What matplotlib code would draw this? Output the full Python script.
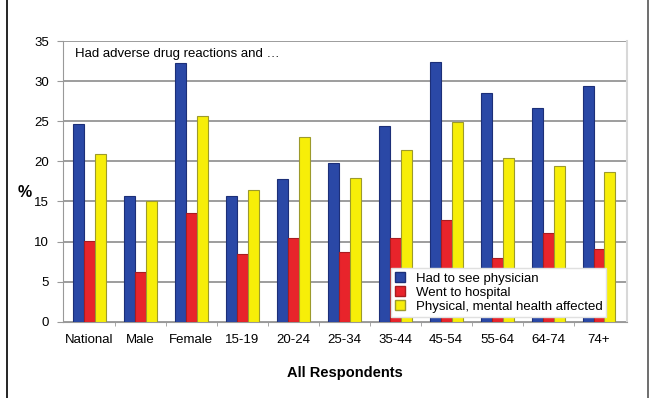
import matplotlib
matplotlib.use("Agg")
import matplotlib.pyplot as plt
from matplotlib.lines import Line2D
import numpy as np

plt.rcParams['font.family'] = ['Liberation Sans Narrow', 'Liberation Sans', 'DejaVu Sans']

categories = ['National', 'Male', 'Female', '15-19', '20-24', '25-34',
              '35-44', '45-54', '55-64', '64-74', '74+']
saw_physician = [24.7, 15.7, 32.3, 15.7, 17.8, 19.8, 24.4, 32.4, 28.5, 26.6, 29.4]
went_hospital = [10.1, 6.2, 13.5, 8.4, 10.4, 8.7, 10.5, 12.7, 8.0, 11.1, 9.1]
health_affected = [20.9, 15.0, 25.7, 16.4, 23.1, 17.9, 21.4, 24.9, 20.4, 19.4, 18.7]

series = [
    ('Had to see physician', saw_physician, '#2a48a6', '#1c2f78'),
    ('Went to hospital', went_hospital, '#e8242b', '#a81c20'),
    ('Physical, mental health affected', health_affected, '#f7ee08', '#9c9a2c'),
]

fig = plt.figure(figsize=(6.51, 3.98), dpi=100)
ax = fig.add_axes([0.0968, 0.1917, 0.8664, 0.705])

x = np.arange(len(categories))
width = 0.215
for i, (label, vals, color, edge) in enumerate(series):
    ax.bar(x + (i - 1) * width, vals, width, color=color, edgecolor=edge,
           linewidth=0.8, label=label, zorder=3)

ax.set_ylim(0, 35)
ax.set_xlim(-0.52, 10.55)
ax.set_yticks(range(0, 36, 5))
ax.set_xticks(x)
ax.set_xticklabels(categories)
ax.set_xticks(np.arange(len(categories) - 1) + 0.5, minor=True)
ax.tick_params(axis='x', which='major', length=0, pad=9, labelsize=9.5)
ax.tick_params(axis='x', which='minor', length=3, color='#999999')
ax.tick_params(axis='y', length=4, color='#999999', pad=6, labelsize=9.5)
ax.grid(axis='y', color='#8c8c8c', linewidth=1.2, zorder=0)

ax.spines['top'].set_visible(False)
ax.spines['right'].set_color('#d8d8d8')
ax.spines['right'].set_linewidth(1.5)
ax.spines['left'].set_color('#999999')
ax.spines['bottom'].set_color('#999999')

ax.text(0.022, 0.955, 'Had adverse drug reactions and \u2026', transform=ax.transAxes,
        fontsize=9.5, va='center', ha='left', zorder=5)
ax.set_ylabel('%', rotation=0, fontsize=11.5, fontweight='bold')
ax.yaxis.set_label_coords(-0.068, 0.435)
ax.set_xlabel('All Respondents', fontsize=10.5, fontweight='bold', labelpad=14)

handles = [plt.Rectangle((0, 0), 1, 1, facecolor=c, edgecolor=e) for _, _, c, e in series]
leg = ax.legend(handles, [s[0] for s in series], loc='lower right',
                bbox_to_anchor=(0.975, -0.005), fontsize=9.5, frameon=True,
                fancybox=False, framealpha=1, edgecolor='#e0e0e0',
                handlelength=0.8, handleheight=0.8, handletextpad=0.8,
                labelspacing=0.1, borderpad=0.3)
leg.set_zorder(6)

# thin page borders left and right
fig.add_artist(Line2D([0.0105, 0.0105], [0, 1], color='black', linewidth=1.2))
fig.add_artist(Line2D([0.9955, 0.9955], [0, 1], color='#555555', linewidth=1.2))

fig.savefig('out.png', dpi=100)
